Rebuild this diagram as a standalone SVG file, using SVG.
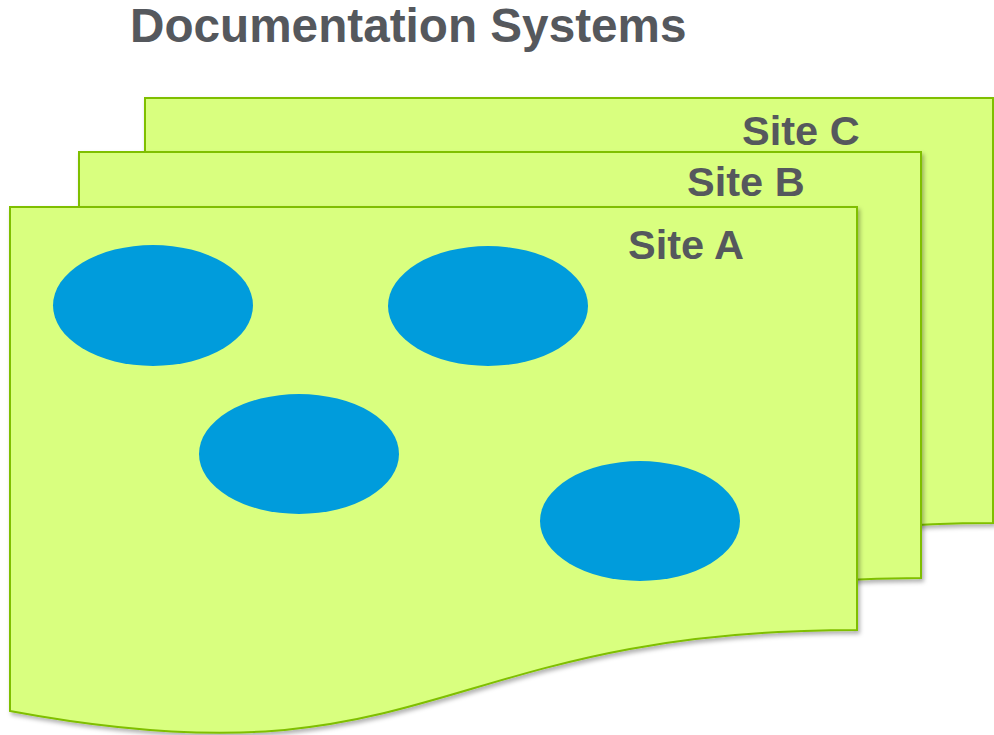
<svg xmlns="http://www.w3.org/2000/svg" width="994" height="735" viewBox="0 0 994 735">
  <defs>
    <filter id="sh" x="-5%" y="-5%" width="112%" height="115%">
      <feDropShadow dx="2" dy="3" stdDeviation="2" flood-color="#000" flood-opacity="0.3"/>
    </filter>
  </defs>
  <style>
    .page { fill: #d9ff7f; stroke: #7fbf00; stroke-width: 2; filter: url(#sh); }
    .blob { fill: #009cdc; }
    .lbl { font-family: "Liberation Sans", Arial, sans-serif; font-weight: bold; fill: #55585d; }
  </style>
  <rect width="994" height="735" fill="#ffffff"/>
  <text class="lbl" x="130" y="42" font-size="47.7">Documentation Systems</text>
  <g id="siteC">
    <path class="page" d="M145,98 L993,98 L993,523 C569,523 569,683 145,604 Z"/>
    <text class="lbl" x="742" y="145" font-size="41.5">Site C</text>
  </g>
  <g id="siteB">
    <path class="page" d="M79,152 L921,152 L921,578 C500,578 500,738 79,659 Z"/>
    <text class="lbl" x="687" y="196" font-size="41.5">Site B</text>
  </g>
  <g id="siteA">
    <path class="page" d="M10,207 L857,207 L857,630 C433,630 433,790 10,711 Z"/>
    <text class="lbl" x="628" y="259" font-size="41.5">Site A</text>
  </g>
  <g id="e1"><ellipse class="blob" cx="153" cy="305.5" rx="100" ry="60.5"/></g>
  <g id="e2"><ellipse class="blob" cx="488" cy="306" rx="100" ry="60"/></g>
  <g id="e3"><ellipse class="blob" cx="299" cy="454" rx="100" ry="60"/></g>
  <g id="e4"><ellipse class="blob" cx="640" cy="521" rx="100" ry="60"/></g>
  <g id="connectors"/>
</svg>
